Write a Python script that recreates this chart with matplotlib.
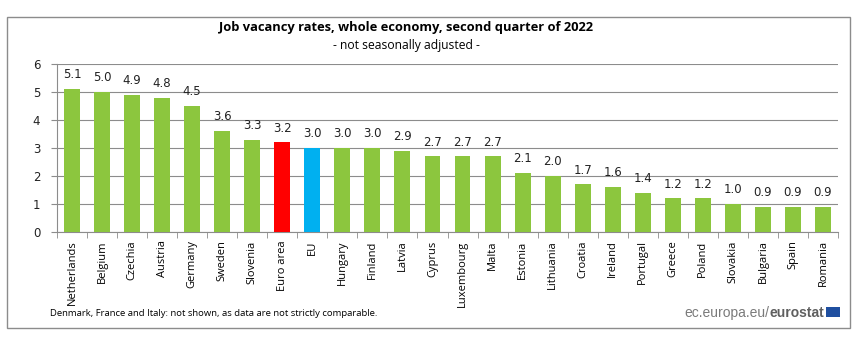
import numpy as np
import matplotlib.pyplot as plt
from matplotlib.patches import Rectangle

# data
countries = ['Netherlands', 'Belgium', 'Czechia', 'Austria', 'Germany', 'Sweden', 'Slovenia',
             'Euro area', 'EU', 'Hungary', 'Finland', 'Latvia', 'Cyprus', 'Luxembourg', 'Malta',
             'Estonia', 'Lithuania', 'Croatia', 'Ireland', 'Portugal', 'Greece', 'Poland',
             'Slovakia', 'Bulgaria', 'Spain', 'Romania']
rates = [5.1, 5.0, 4.9, 4.8, 4.5, 3.6, 3.3, 3.2, 3.0, 3.0, 3.0, 2.9, 2.7, 2.7, 2.7,
         2.1, 2.0, 1.7, 1.6, 1.4, 1.2, 1.2, 1.0, 0.9, 0.9, 0.9]

green = '#8CC63E'
cols = [green] * len(countries)
cols[countries.index('Euro area')] = '#FF0000'
cols[countries.index('EU')] = '#00B0F0'

fig = plt.figure(figsize=(8.64, 3.37), dpi=100)
W, H = 864, 337

# outer frame
fig.patches.append(Rectangle((7 / W, 1 - 328 / H), 843 / W, 311 / H, transform=fig.transFigure,
                             fill=False, edgecolor='#8c8c8c', linewidth=1))

ax = fig.add_axes([57 / W, 1 - 232 / H, 781 / W, 168 / H])
x = np.arange(len(countries))
ax.bar(x, rates, width=0.53, color=cols, zorder=3)

ax.set_xlim(-0.5, len(countries) - 0.5)
ax.set_ylim(0, 6)
ax.set_yticks(range(0, 7))
ax.yaxis.grid(True, color='#8c8c8c', linewidth=0.8, zorder=0)
for s in ['top', 'right']:
    ax.spines[s].set_visible(False)
ax.spines['left'].set_color('#8c8c8c')
ax.spines['bottom'].set_color('#8c8c8c')
ax.tick_params(axis='y', labelsize=8.5, colors='#8c8c8c', labelcolor='#222222', length=4, pad=8)

ax.set_xticks(x)
ax.set_xticklabels(countries, rotation=90, fontsize=8, family='Open Sans')
ax.tick_params(axis='x', length=0, pad=6)
ax.set_xticks(np.arange(-0.5, len(countries)), minor=True)
ax.tick_params(axis='x', which='minor', length=4, color='#8c8c8c')

for xi, v in zip(x, rates):
    ax.text(xi, v + 0.28, '%.1f' % v, ha='center', va='bottom', fontsize=8.5, color='#222222')

fig.text(406 / W, 1 - 27 / H, 'Job vacancy rates, whole economy, second quarter of 2022',
         ha='center', va='center', fontsize=9.3, fontweight='bold', family='Open Sans')
fig.text(406 / W, 1 - 46 / H, '- not seasonally adjusted -', ha='center', va='center',
         fontsize=8.7, family='Open Sans')
fig.text(50 / W, 1 - 313 / H, 'Denmark, France and Italy: not shown, as data are not strictly comparable.',
         ha='left', va='center', fontsize=6.8, family='Open Sans')

bold = fig.text(824 / W, 1 - 313 / H, 'eurostat', ha='right', va='center', fontsize=10,
                color='#5f5f5f', fontweight='bold', family='Liberation Sans')
fig.canvas.draw()
bb2 = bold.get_window_extent(renderer=fig.canvas.get_renderer())
fig.text(bb2.x0 / W, 1 - 313 / H, 'ec.europa.eu/', ha='right', va='center', fontsize=10,
         color='#7a7a7a', family='Liberation Sans')
fig.patches.append(Rectangle((826 / W, 1 - 317 / H), 14 / W, 10 / H, transform=fig.transFigure,
                             facecolor='#1f4fa0', edgecolor='none'))

fig.savefig('out.png', dpi=100)
